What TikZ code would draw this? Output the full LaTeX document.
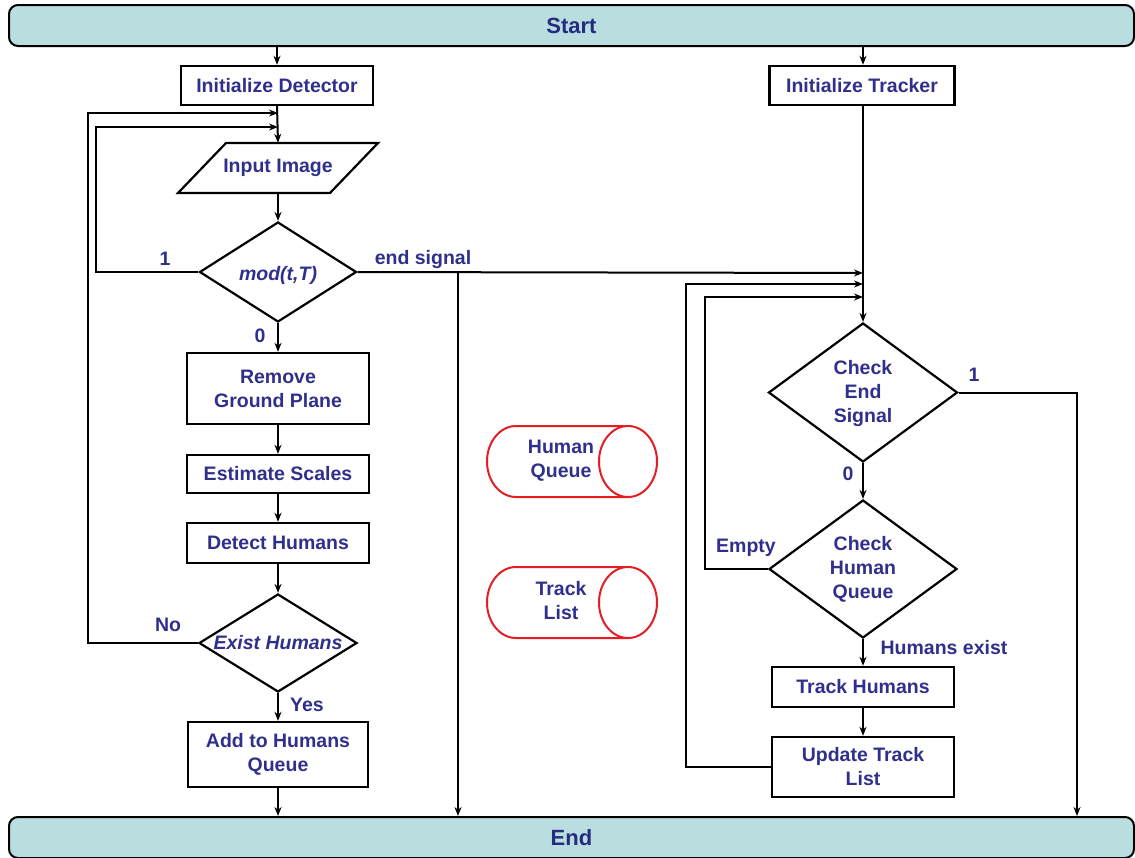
\documentclass[tikz,border=0pt]{standalone}
\usepackage{fontspec}
\setmainfont{Liberation Sans}
\usetikzlibrary{arrows.meta,shapes.geometric,calc}
\definecolor{txtblue}{RGB}{48,48,140}
\definecolor{txtdark}{RGB}{36,44,128}
\definecolor{barfill}{RGB}{186,222,224}
\definecolor{cylred}{RGB}{228,30,36}
\begin{document}
\begin{tikzpicture}[x=1pt,y=1pt,
  lbl/.style={text=txtblue, font=\fontsize{19.5}{24}\selectfont\bfseries, inner sep=0pt},
  box/.style={draw, line width=2.4pt, fill=white, inner sep=0pt, align=center, lbl},
  bar/.style={draw, line width=2pt, fill=barfill, rounded corners=9pt, minimum width=1125, minimum height=41, inner sep=0pt, text=txtdark, font=\fontsize{22}{26}\selectfont\bfseries},
  dia/.style={draw, diamond, line width=2.2pt, fill=white, inner sep=0pt},
  arr/.style={line width=2pt, -{Stealth[length=9pt,width=7pt]}},
  cyl/.style={draw=cylred, line width=2pt, fill=white}]
\clip (0,0) rectangle (1135,-857);
\fill[white] (0,0) rectangle (1135,-857);

% bars
\node[bar] (start) at (571.5,-25.5) {Start};
\node[bar] (end) at (571.5,-837.5) {End};

% left column
\node[box, minimum width=192, minimum height=39] (idet) at (277,-85.5) {Initialize Detector};
\draw[line width=2.2pt, fill=white] (178,-193) -- (330,-193) -- (378,-143) -- (226,-143) -- cycle;
\node[lbl, minimum width=200, minimum height=50] (img) at (278,-168) {Input Image};
\node[dia, minimum width=157, minimum height=100] (mod) at (278,-272) {};
\node[lbl] (modt) at (278,-275) {\itshape mod(t,T)};
\node[box, minimum width=182, minimum height=71, align=center] (rgp) at (278,-388.5) {Remove\\Ground Plane};
\node[box, minimum width=182, minimum height=38] (est) at (278,-474) {Estimate Scales};
\node[box, minimum width=182, minimum height=40] (det) at (278,-543) {Detect Humans};
\node[dia, minimum width=158, minimum height=98] (exist) at (278,-643) {};
\node[lbl] (existt) at (278,-643) {\itshape Exist Humans};
\node[box, minimum width=180, minimum height=65, align=center] (add) at (278,-754.5) {Add to Humans\\Queue};

% right column
\node[box, minimum width=185, minimum height=39] (itrk) at (862,-85.5) {Initialize Tracker};
\node[dia, minimum width=189, minimum height=139] (ces) at (863,-392.5) {};
\node[lbl, align=center] (cest) at (863,-393) {Check\\End\\Signal};
\node[dia, minimum width=188, minimum height=138] (chq) at (863,-569) {};
\node[lbl, align=center] (chqt) at (863,-569) {Check\\Human\\Queue};
\node[box, minimum width=182, minimum height=40] (trk) at (863,-687) {Track Humans};
\node[box, minimum width=182, minimum height=60, align=center] (upd) at (863,-767) {Update Track\\List};

% cylinders
\draw[cyl] (628,-426) -- (516,-426) arc[start angle=90, end angle=270, x radius=29, y radius=35.5] -- (628,-497);
\draw[cyl] (628,-461.5) ellipse [x radius=29, y radius=35.5];
\node[lbl, align=center] (hq) at (561,-461) {Human\\Queue};
\draw[cyl] (628,-567) -- (516,-567) arc[start angle=90, end angle=270, x radius=29, y radius=35.5] -- (628,-638);
\draw[cyl] (628,-602.5) ellipse [x radius=29, y radius=35.5];
\node[lbl, align=center] (tl) at (561,-601) {Track\\List};

% junction coordinates
\coordinate (jA) at (278,-113);
\coordinate (jB) at (278,-127);
\coordinate (kA) at (863,-273);
\coordinate (kB) at (863,-284);
\coordinate (kC) at (863,-297);
\coordinate (br) at (458,-272);
\coordinate (rt) at (1077,-392.5);

% connectors
\draw[arr] (start.south -| idet.north) -- (idet.north);
\draw[arr] (start.south -| ces.north) -- (itrk.north -| ces.north);
\draw[arr] (idet.south) -- (img.north);
\draw[arr] (img.south) -- (mod.north);
\draw[arr] (mod.south) -- (rgp.north);
\draw[arr] (rgp.south) -- (est.north);
\draw[arr] (est.south) -- (det.north);
\draw[arr] (det.south) -- (exist.north);
\draw[arr] (exist.south) -- (add.north);
\draw[arr] (add.south) -- (add.south |- end.north);
\draw[arr] (mod.west) -- ++(-102,0) |- (jB);
\draw[arr] (exist.west) -- ++(-110,0) |- (jA);
\draw[arr] (mod.east) -- (kA);
\draw[arr] (br) -- (br |- end.north);
\draw[arr] (itrk.south -| ces.north) -- (ces.north);
\draw[arr] (ces.east) -- (rt) -- (rt |- end.north);
\draw[arr] (ces.south) -- (chq.north);
\draw[arr] (chq.west) -- ++(-63,0) |- (kC);
\draw[arr] (chq.south) -- (trk.north);
\draw[arr] (trk.south) -- (upd.north);
\draw[arr] (upd.west) -- ++(-85,0) |- (kB);

% labels
\node[lbl] (l1) at (165,-259) {1};
\node[lbl] (les) at (423,-259) {end signal};
\node[lbl] (l0) at (260,-336) {0};
\node[lbl] (lno) at (168,-625) {No};
\node[lbl] (lyes) at (307,-705) {Yes};
\node[lbl] (r1) at (974,-375) {1};
\node[lbl] (r0) at (848,-474) {0};
\node[lbl] (lempty) at (746,-548) {Empty};
\node[lbl] (lhe) at (944,-648) {Humans exist};
\end{tikzpicture}
\end{document}
